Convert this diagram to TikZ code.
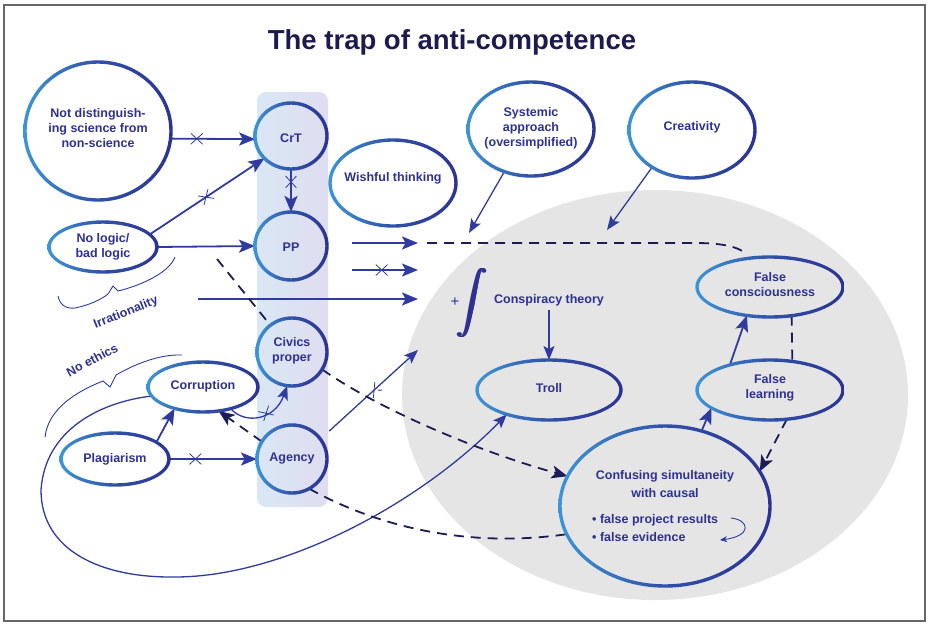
\documentclass[tikz,border=0pt]{standalone}
\usepackage{graphicx}
\usepackage{fontspec}
\setmainfont{Liberation Sans}
\usetikzlibrary{arrows.meta,shapes.geometric,shapes.misc,calc}
\definecolor{ringL}{HTML}{3D95D6}
\definecolor{ringD}{HTML}{2B3393}
\definecolor{txtC}{HTML}{2E3192}
\definecolor{lineC}{HTML}{2F3B9F}
\definecolor{dashC}{HTML}{1D1D55}
\definecolor{grayC}{HTML}{E5E5E5}
\definecolor{titleC}{HTML}{1C1B4E}
\definecolor{colL}{HTML}{DAE7F5}
\definecolor{colR}{HTML}{DFDDF0}
\newcommand\ringnode[5]{%
  \node[ellipse, minimum width={2*#4}, minimum height={2*#5}, inner sep=0pt, outer sep=0pt] (#1) at (#2,#3) {};}
\newcommand\ringdraw[3]{%
  \shade[even odd rule, left color=ringL, right color=ringD, middle color=ringD!70!ringL]
   (#1.center) ellipse [x radius={#2+1.7}, y radius={#3+1.7}]
   (#1.center) ellipse [x radius={#2-1.7}, y radius={#3-1.7}];}
\newcommand\bigint{\scalebox{3.1}{$\displaystyle\int$}}
\newcommand\thickint{\rlap{\bigint}\rlap{\hspace{0.7pt}\bigint}\rlap{\hspace{1.4pt}\bigint}\rlap{\raisebox{0.6pt}{\hspace{0.7pt}\bigint}}\hspace{1.4pt}\bigint}
\tikzset{
  lbl/.style={font=\bfseries\fontsize{12.5}{15}\selectfont, text=txtC, align=center, inner sep=0pt},
  conn/.style={draw=lineC, line width=1.8pt, -{Stealth[length=16pt,width=13pt,inset=3.5pt]}},
  thinconn/.style={draw=lineC, line width=1.3pt, -{Stealth[length=14pt,width=11pt,inset=3pt]}},
  dashl/.style={draw=dashC, line width=1.8pt, dash pattern=on 10pt off 7pt},
  dasharr/.style={dashl, -{Stealth[length=16pt,width=13pt,inset=4pt,fill=dashC]}},
  xmark/.style={draw=lineC, cross out, sloped, minimum width=11pt, minimum height=10pt, inner sep=0pt, line width=0.8pt},
  bracel/.style={draw=lineC, line width=0.9pt}
}
\begin{document}
\begin{tikzpicture}[x=1pt,y=1pt]
\useasboundingbox (0,0) rectangle (929,-625);
\fill[white] (0,0) rectangle (929,-625);
\draw[draw=black!60, line width=1.5pt] (4,-5) rectangle (925,-621);
% title
\node[font=\bfseries\fontsize{27.5}{30}\selectfont, text=titleC] (title) at (452,-42) {The trap of anti-competence};
% gray region and column
\fill[grayC] (655,-395) ellipse [x radius=253, y radius=205];
\shade[left color=colL, right color=colR, rounded corners=9pt] (257,-92) rectangle (328,-507);
% nodes
\ringnode{nd}{98}{-131}{73}{69}
\ringnode{crt}{291}{-136}{36}{33}
\ringnode{pp}{291}{-246}{36}{34}
\ringnode{civ}{292}{-352}{35}{34}
\ringnode{agy}{292}{-459}{35}{34}
\ringnode{nol}{103}{-247}{54}{25}
\ringnode{cor}{203}{-387}{55}{25}
\ringnode{plg}{115}{-459}{54}{26}
\ringnode{wish}{393}{-183}{63}{43}
\ringnode{sys}{531}{-129}{63}{47}
\ringnode{cre}{692}{-130}{63}{48}
\ringnode{troll}{549}{-390}{72}{30}
\ringnode{fc}{770}{-287}{73}{30}
\ringnode{fl}{770}{-390}{73}{30}
\ringnode{conf}{665}{-506}{105}{80}
\node[lbl] (consp) at (549,-300) {Conspiracy theory};
\node[font=\fontsize{15}{15}\selectfont, text=txtC] (plus) at (455,-302) {+};
\node[text=txtC, inner sep=0pt] (intg) at (472,-303) {\thickint};
% free ends
\coordinate (d1) at (217,-259);
\coordinate (a1s) at (352,-243);
\coordinate (a1e) at (418,-243);
\coordinate (ds) at (427,-243);
\coordinate (dm) at (695,-243);
\coordinate (a2s) at (352,-270);
\coordinate (a2e) at (418,-270);
\coordinate (a3s) at (198,-299);
\coordinate (a3e) at (418,-299);
\coordinate (sysarr) at (469,-233);
\coordinate (crearr) at (607,-230);
\coordinate (intarr) at (418,-350);
\coordinate (c1) at (41,-490);
\coordinate (c2) at (175,-577);
\coordinate (sa1) at (731,-518);
\coordinate (sa2) at (720,-540);
% solid connectors
\draw[conn] (nd.-6) -- node[xmark,pos=0.31]{} (crt.185);
\draw[conn] (nol.15) -- node[xmark,pos=0.49]{} (crt.220);
\draw[conn] (nol.east) -- (pp.west);
\draw[conn] (crt.south) -- node[xmark,pos=0.3]{} (pp.north);
\draw[conn] (plg.22) -- (cor.-143);
\draw[conn] (plg.east) -- node[xmark,pos=0.3]{} (agy.west);
\draw[thinconn] (cor.-38) .. controls (245,-425) and (275,-420) .. node[xmark,pos=0.6]{} (civ.-98);
\draw[thinconn] (cor.190) .. controls (100,-402) and (45,-430) .. (c1)
   .. controls (41,-550) and (100,-578) .. (c2)
   .. controls (280,-577) and (416,-507) .. (troll.210);
\draw[thinconn, shorten <=12pt] (agy.35) -- node[xmark,pos=0.55]{} (intarr);
\draw[conn] (a1s) -- (a1e);
\draw[conn] (a2s) -- node[xmark,pos=0.45]{} (a2e);
\draw[conn] (a3s) -- (a3e);
\draw[thinconn] (sys.238) -- (sysarr);
\draw[thinconn] (cre.223) -- (crearr);
\draw[thinconn, shorten <=4pt] (consp.south) -- (troll.north);
\draw[conn] (fl.148) -- (fc.231);
\draw[conn] (conf.64) -- (fl.197);
\draw[draw=lineC, line width=0.9pt, -{Stealth[length=7pt,width=6pt,inset=2pt]}] (sa1) .. controls (750,-520) and (752,-536) .. (sa2);
% dashed connectors
\draw[dashl] (d1) -- (civ);
\draw[dasharr] (civ.-30) .. controls (380,-410) and (480,-452) .. (conf.163);
\draw[dashl] (agy.-60) .. controls (380,-528) and (470,-548) .. (conf.196);
\draw[dasharr] (agy.150) -- (cor.-57);
\draw[dashl, shorten >=5pt] (ds) -- (dm) .. controls (720,-243) and (738,-246) .. (fc.123);
\draw[dashl] (fc.-53) -- (fl.52);
\draw[dasharr] (fl.-60) -- (conf.20);
% braces
\draw[bracel] (58,-296) .. controls (60,-305) and (66,-309) .. (75,-308) .. controls (90,-305) and (102,-299) .. (108,-294) -- (113,-286) -- (118,-291) .. controls (135,-287) and (168,-275) .. (175,-257);
\draw[bracel] (45,-437) .. controls (48,-412) and (70,-394) .. (103,-381) -- (110,-387) -- (116,-375) .. controls (135,-364) and (160,-354) .. (182,-355);
\node[lbl, rotate=22] (irr) at (126,-313) {Irrationality};
\node[lbl, rotate=28] (eth) at (92,-360) {No ethics};
% rings
\ringdraw{nd}{73}{69}
\ringdraw{crt}{36}{33}
\ringdraw{pp}{36}{34}
\ringdraw{civ}{35}{34}
\ringdraw{agy}{35}{34}
\ringdraw{nol}{54}{25}
\ringdraw{cor}{55}{25}
\ringdraw{plg}{54}{26}
\ringdraw{wish}{63}{43}
\ringdraw{sys}{63}{47}
\ringdraw{cre}{63}{48}
\ringdraw{troll}{72}{30}
\ringdraw{fc}{73}{30}
\ringdraw{fl}{73}{30}
\ringdraw{conf}{105}{80}
% labels
\node[lbl] (nd-t) at (98,-128) {Not distinguish-\\ing science from\\non-science};
\node[lbl] (crt-t) at (291,-138) {CrT};
\node[lbl] (pp-t) at (291,-247) {PP};
\node[lbl] (civ-t) at (292,-351) {Civics\\proper};
\node[lbl] (agy-t) at (292,-459) {Agency};
\node[lbl] (nol-t) at (103,-247) {No logic/\\bad logic};
\node[lbl] (cor-t) at (203,-386) {Corruption};
\node[lbl] (plg-t) at (115,-459) {Plagiarism};
\node[lbl] (wish-t) at (393,-178) {Wishful thinking};
\node[lbl] (sys-t) at (531,-128) {Systemic\\approach\\(oversimplified)};
\node[lbl] (cre-t) at (692,-127) {Creativity};
\node[lbl] (troll-t) at (549,-388) {Troll};
\node[lbl] (fc-t) at (770,-285) {False\\consciousness};
\node[lbl] (fl-t) at (770,-388) {False\\learning};
\node[lbl, font=\bfseries\fontsize{12.5}{18}\selectfont] (conf-t) at (665,-484) {Confusing simultaneity\\with causal};
\node[lbl, align=left, anchor=west, font=\bfseries\fontsize{12.5}{18}\selectfont] (conf-b) at (592,-528) {• false project results\\• false evidence};
\end{tikzpicture}
\end{document}
